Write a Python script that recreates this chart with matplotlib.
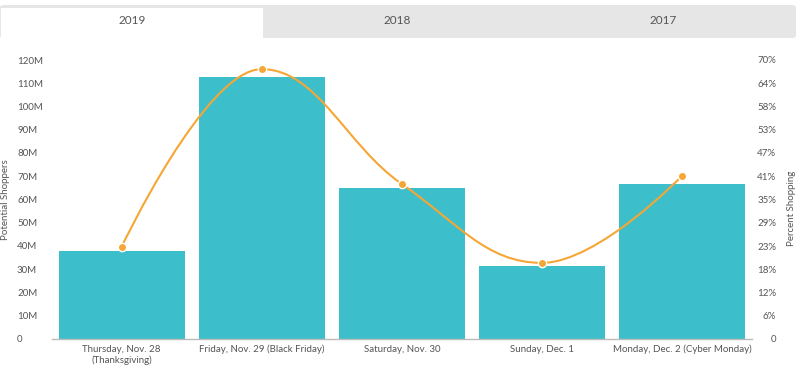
import matplotlib
matplotlib.use("Agg")
import matplotlib.pyplot as plt
from matplotlib.patches import Rectangle, FancyBboxPatch, PathPatch
from matplotlib.path import Path

plt.rcParams['font.family'] = ['Lato', 'DejaVu Sans']

days = ["Thursday, Nov. 28\n(Thanksgiving)", "Friday, Nov. 29 (Black Friday)",
        "Saturday, Nov. 30", "Sunday, Dec. 1", "Monday, Dec. 2 (Cyber Monday)"]
shoppers = [37.8e6, 112.7e6, 65.0e6, 31.4e6, 66.7e6]
percent = [23.1, 67.7, 38.9, 19.1, 40.9]
tabs = ["2019", "2018", "2017"]
left_ticks = [0, 10e6, 20e6, 30e6, 40e6, 50e6, 60e6, 70e6, 80e6, 90e6, 100e6, 110e6, 120e6]
left_labels = ["0", "10M", "20M", "30M", "40M", "50M", "60M", "70M", "80M", "90M", "100M", "110M", "120M"]
right_labels = ["0", "6%", "12%", "18%", "23%", "29%", "35%", "41%", "47%", "53%", "58%", "64%", "70%"]

BAR = "#3dbfcb"
LINE = "#f5a634"
TXT = "#555555"

W, H = 800, 370
fig = plt.figure(figsize=(8, 3.7), dpi=100)


def fx(px):
    return px / W


def fy(py):
    return 1 - py / H


# tab strip
fig.patches.append(FancyBboxPatch((fx(0), fy(38)), fx(796), fy(5) - fy(38),
                                  boxstyle="round,pad=0,rounding_size=0.006",
                                  transform=fig.transFigure, fc="#e6e6e6", ec="none"))
fig.patches.append(Rectangle((fx(1), fy(38)), fx(262), fy(8) - fy(38),
                             transform=fig.transFigure, fc="white", ec="none"))
for i, t in enumerate(tabs):
    fig.text(fx(132 + i * 265.5), fy(21), t, ha="center", va="center",
             fontsize=8.5, color="#555555")

ax = fig.add_axes([fx(51.5), fy(339), fx(752) - fx(51.5), fy(60) - fy(339)])
x = list(range(len(days)))
ax.bar(x, shoppers, width=0.9, color=BAR, zorder=2)
ax.set_xlim(-0.5, len(days) - 0.5)
ax.set_ylim(0, 120e6)
ax.set_yticks(left_ticks)
ax.set_yticklabels(left_labels)
ax.set_xticks(x)
ax.set_xticklabels(days)
ax.tick_params(axis="y", length=0, pad=24.8, labelsize=7, labelcolor=TXT)
ax.tick_params(axis="x", length=0, pad=4, labelsize=7, labelcolor=TXT)
for lab in ax.get_yticklabels():
    lab.set_ha("left")
for s in ["top", "left", "right"]:
    ax.spines[s].set_visible(False)
ax.spines["bottom"].set_color("#bbbbbb")
ax.spines["bottom"].set_linewidth(1)

ax2 = ax.twinx()
ax2.set_ylim(0, 70)
ax2.set_yticks([70 * i / 12 for i in range(13)])
ax2.set_yticklabels(right_labels)
ax2.tick_params(axis="y", length=0, pad=17.3, labelsize=7, labelcolor=TXT)
for lab in ax2.get_yticklabels():
    lab.set_ha("right")
for s in ["top", "left", "right", "bottom"]:
    ax2.spines[s].set_visible(False)

fig.text(fx(6), fy(200), "Potential Shoppers", rotation=90, ha="center", va="center",
         fontsize=7, color=TXT)
fig.text(fx(792), fy(208), "Percent Shopping", rotation=90, ha="center", va="center",
         fontsize=7, color=TXT)

# spline through the percent points (Highcharts-style smoothing)
sm = 1.5
den = sm + 1
n = len(percent)
verts = [(x[0], percent[0])]
codes = [Path.MOVETO]
right_c = [None] * n
left_c = [None] * n
for i in range(1, n - 1):
    px, py = x[i], percent[i]
    lx, ly = x[i - 1], percent[i - 1]
    nx, ny = x[i + 1], percent[i + 1]
    lcx = (sm * px + lx) / den
    lcy = (sm * py + ly) / den
    rcx = (sm * px + nx) / den
    rcy = (sm * py + ny) / den
    corr = (rcy - lcy) * (rcx - px) / (rcx - lcx) + py - rcy
    lcy += corr
    rcy += corr
    if lcy > ly and lcy > py:
        lcy = max(ly, py)
        rcy = 2 * py - lcy
    elif lcy < ly and lcy < py:
        lcy = min(ly, py)
        rcy = 2 * py - lcy
    if rcy > ny and rcy > py:
        rcy = max(ny, py)
        lcy = 2 * py - rcy
    elif rcy < ny and rcy < py:
        rcy = min(ny, py)
        lcy = 2 * py - rcy
    left_c[i] = (lcx, lcy)
    right_c[i] = (rcx, rcy)
for i in range(1, n):
    c1 = right_c[i - 1] or (x[i - 1], percent[i - 1])
    c2 = left_c[i] or (x[i], percent[i])
    verts += [c1, c2, (x[i], percent[i])]
    codes += [Path.CURVE4] * 3
ax2.add_patch(PathPatch(Path(verts, codes), fc="none", ec=LINE, lw=1.5, zorder=3))
ax2.plot(x, percent, "o", color=LINE, ms=6, mec="white", mew=1, zorder=4)

fig.savefig("out.png", dpi=100)
